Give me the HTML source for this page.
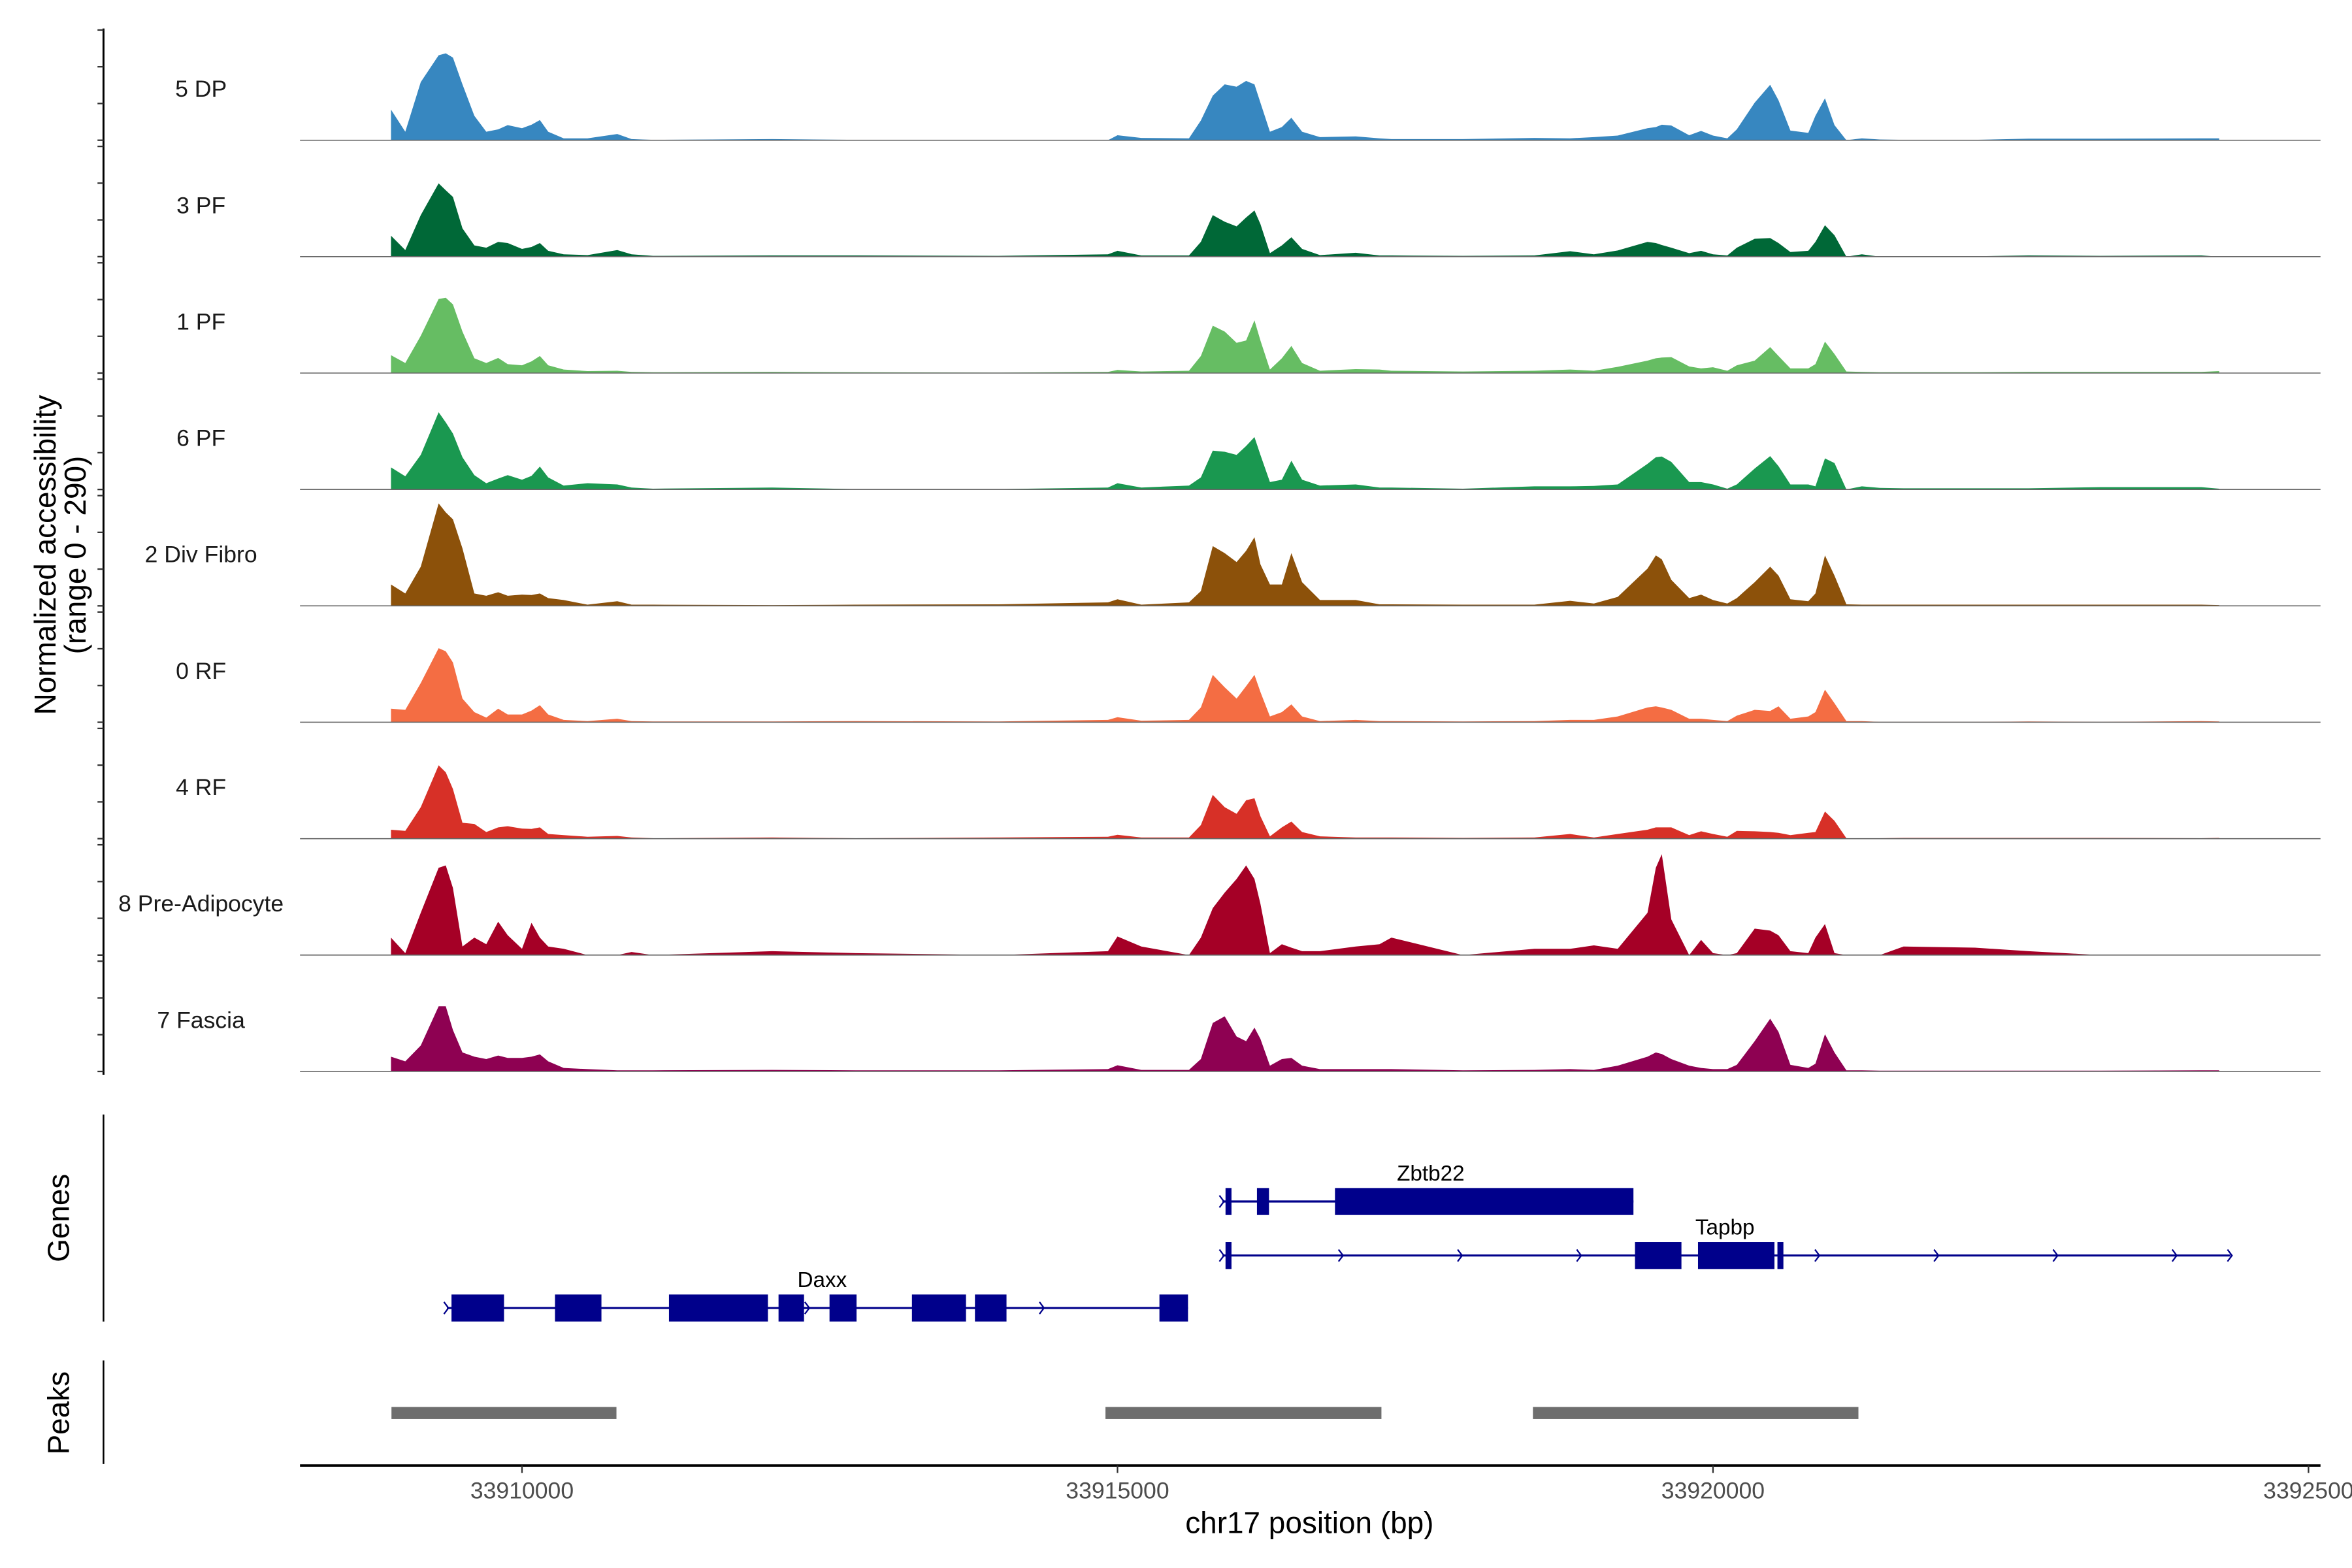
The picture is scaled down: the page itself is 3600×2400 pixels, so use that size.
<!DOCTYPE html>
<html><head><meta charset="utf-8"><style>
html,body{margin:0;padding:0;background:#fff;}
svg{display:block;font-family:"Liberation Sans",Arial,sans-serif;}
</style></head><body>
<svg id="chart" width="3600" height="2400" viewBox="0 0 1568 1045.33" preserveAspectRatio="none" xmlns="http://www.w3.org/2000/svg">
<g id="tracks"></g>
<g id="genes"></g>
<g id="peaks"></g>
<g id="axes"></g>
</svg>
<script>
// ---- data ----
const gridOx = [10,22,35,50,56,62,70,80,90,100,
108,120,128,135,142,155,175,200,212,230,
330,400,520,612,620,640,680,690,700,710,
720,728,735,740,748,758,766,775,790,820,
840,850,910,970,1000,1020,1040,1065,1072,1077,
1085,1100,1110,1120,1132,1140,1155,1168,1175,1185,
1200,1206,1214,1222,1232,1245,1260,1280,1340,1385,
1445,1530,1545];
const positions = gridOx.map(o => 33908800 + 10*o);
const trackNames = ["5 DP","3 PF","1 PF","6 PF","2 Div Fibro","0 RF","4 RF","8 Pre-Adipocyte","7 Fascia"];
const trackColors = ["#3787c0","#006837","#66bd63","#1a9850","#8c510a","#f46d43","#d73027","#a50026","#8e0152"];
const dp5 = [79,22,150,219,224,213,144,63,22,28, 39,31,40,52,22,5,5,16,3,1, 3,1,0,0,13,6,5,51,115,144, 138,153,144,97,22,34,58,22,8,10, 5,3,3,6,5,8,12,31,34,40, 38,13,24,12,5,28,97,143,103,25, 19,63,108,39,0,5,2,1,1,4, 4,5,5];
const pf3 = [54,17,107,189,171,154,73,29,23,38, 35,20,25,35,15,6,4,17,6,2, 3,3,2,6,15,3,3,38,107,90, 78,101,119,84,9,29,50,20,4,10, 3,3,2,3,14,6,16,38,35,30, 23,9,15,6,3,23,46,48,35,12, 15,38,81,55,0,6,0,1,1,3, 2,3,0];
const pf1 = [46,26,96,191,194,177,107,38,26,39, 23,20,30,44,20,9,5,6,3,2, 3,2,1,3,8,4,6,44,122,107, 78,84,136,84,9,38,70,26,6,10, 9,6,4,6,9,6,16,32,38,40, 41,17,12,15,6,20,32,67,44,12, 12,23,81,49,4,3,2,2,2,3, 3,3,5];
const pf6 = [57,34,89,199,173,144,83,37,16,28, 37,25,35,59,31,10,16,13,5,2, 5,1,1,5,16,5,10,31,100,97, 89,112,135,89,19,25,74,25,10,13, 5,5,2,8,8,9,13,66,83,85, 71,19,19,13,2,13,54,86,60,13, 13,8,80,68,0,8,4,3,3,3, 6,6,2];
const divFibro2 = [55,32,101,264,241,223,148,32,26,35, 26,29,28,32,20,15,3,12,3,3, 2,3,4,9,17,3,9,38,154,136, 113,142,177,107,55,55,136,61,15,15, 4,4,3,3,13,6,23,96,130,120, 67,20,29,15,6,20,61,101,78,17, 12,32,130,78,4,3,3,3,3,3, 3,3,2];
const rf0 = [35,32,101,191,183,154,61,26,12,35, 20,20,30,44,20,6,3,9,3,2, 2,3,2,6,13,4,6,38,122,90, 61,93,122,78,15,26,46,15,3,6, 3,3,2,3,6,6,15,38,41,38, 32,9,9,6,3,17,32,29,41,9, 15,26,84,49,3,3,1,1,1,2, 1,3,2];
const rf4 = [23,20,81,189,171,128,41,38,17,29, 32,26,25,29,12,9,5,7,3,1, 3,1,3,5,10,3,3,35,113,81, 64,99,104,58,6,29,44,17,6,3, 3,3,2,3,12,3,12,23,29,29, 29,9,19,12,5,20,19,17,15,9, 15,17,70,46,1,1,1,2,2,2, 2,1,2];
const preAdipo8 = [45,5,109,225,231,173,22,45,28,86, 51,16,83,45,22,16,0,0,8,0, 10,5,0,10,48,22,0,45,121,161, 196,231,196,132,5,28,19,10,10,22, 28,45,0,16,16,25,16,109,225,260, 92,0,39,5,0,5,68,63,51,10, 5,45,80,5,0,0,0,22,19,10, 0,0,0];
const fascia7 = [38,26,67,168,168,107,49,38,32,41, 35,35,38,44,26,9,6,3,3,3, 4,3,3,6,16,4,4,32,125,142, 90,78,113,84,15,32,35,15,6,6, 6,6,3,4,6,4,15,38,49,45, 32,15,9,6,6,17,78,136,102,17, 9,20,96,49,3,3,2,2,2,2, 2,3,3];
const seriesValues = [dp5,pf3,pf1,pf6,divFibro2,rf0,rf4,preAdipo8,fascia7];
const xTicks = [33910000,33915000,33920000,33925000];
const xTickLabels = ["33910000","33915000","33920000","3392500"];
const genes = ["Zbtb22","Tapbp","Daxx"];
const geneStarts = [33915881,33915881,33909370];
const geneEnds = [33919332,33924345,33915592];
const geneExons = [
  [[33915907,33915957],[33916171,33916272],[33916826,33919332]],
  [[33915907,33915957],[33919345,33919735],[33919874,33920516],[33920541,33920591]],
  [[33909408,33909849],[33910277,33910667],[33911234,33912065],[33912154,33912368],[33912582,33912809],[33913274,33913728],[33913803,33914068],[33915352,33915592]]
];
const geneLabelPos = [33917630,33920100,33912520];
const peakStarts = [33908904,33914899,33918488];
const peakEnds = [33910793,33917216,33921221];
const yMax = 290;

// ---- scales ----
const NS = "http://www.w3.org/2000/svg";
const X0 = 200, X1 = 1547;
function xScale(bp){ return 348 + (bp - 33910000) * 397 / 5000; }
const trackH = 75, firstBase = 93.5, trackStep = 77.6;
function baseY(i){ return firstBase + i*trackStep; }
function yScale(i, v){ return baseY(i) - v / yMax * trackH; }
function mk(tag, attrs, parent){ const e = document.createElementNS(NS, tag); for (const k in attrs) e.setAttribute(k, attrs[k]); parent.appendChild(e); return e; }

const gT = document.getElementById('tracks');
seriesValues.forEach((vals, i) => {
  const g = mk('g', {}, gT);
  
  
  let d = 'M' + xScale(positions[0]).toFixed(2) + ',' + baseY(i).toFixed(2);
  vals.forEach((v, j) => { d += 'L' + xScale(positions[j]).toFixed(2) + ',' + yScale(i, v).toFixed(2); });
  d += 'L' + xScale(positions[positions.length-1]).toFixed(2) + ',' + baseY(i).toFixed(2) + 'Z';
  const p = mk('path', {d: d, fill: trackColors[i], stroke: 'none'}, g);
  
  
  const bl = mk('line', {x1: X0, x2: X1, y1: baseY(i), y2: baseY(i), stroke: '#666', 'stroke-width': 0.7}, g);
  
  
  const t = mk('text', {x: 134, y: baseY(i) - 29, 'text-anchor': 'middle', 'font-size': 15.5, fill: '#1a1a1a'}, g);
  t.textContent = trackNames[i];
  
  
});

// ---- genes ----
const gG = document.getElementById('genes');
const geneRowY = [801, 837, 872];
const geneColor = '#00008b';
function chevron(x, y, g){
  const a = mk('path', {d: `M${x-2},${y-4}L${x+1},${y}L${x-2},${y+4}`, fill: 'none', stroke: geneColor, 'stroke-width': 1}, g);
  
  
}
genes.forEach((name, i) => {
  const g = mk('g', {}, gG);
  
  
  const y = geneRowY[i];
  const ln = mk('line', {x1: xScale(geneStarts[i]), x2: xScale(geneEnds[i]), y1: y, y2: y, stroke: geneColor, 'stroke-width': 1.4}, g);
  
  
  for (let bp = geneStarts[i]; bp <= geneEnds[i]; bp += 1000) {
    const inEx = geneExons[i].some(e => bp >= e[0]-60 && bp <= e[1]+60);
    if (inEx && bp !== geneStarts[i]) continue;
    chevron(xScale(bp), y, g);
  }
  if (i === 1) chevron(xScale(geneEnds[i]), y, g);
  if (i === 2) chevron(xScale(33912400), y, g);
  geneExons[i].forEach(e => {
    const r = mk('rect', {x: xScale(e[0]), y: y - 9, width: Math.max(2, xScale(e[1]) - xScale(e[0])), height: 18, fill: geneColor}, g);
    
    
  });
  const t = mk('text', {x: xScale(geneLabelPos[i]), y: y - 14, 'text-anchor': 'middle', 'font-size': 14.5, fill: '#000'}, g);
  t.textContent = name;
  
  
});

// ---- peaks ----
const gP = document.getElementById('peaks');
peakStarts.forEach((s, i) => {
  const r = mk('rect', {x: xScale(s), y: 938, width: xScale(peakEnds[i]) - xScale(s), height: 8, fill: '#6e6e6e'}, gP);
  
  
});

// ---- axes ----
const gA = document.getElementById('axes');
const yl = mk('line', {x1: 69, x2: 69, y1: 19, y2: 716.5, stroke: '#000', 'stroke-width': 1.3}, gA);


for (let i = 0; i < trackNames.length; i++) {
  for (let k = 0; k < 4; k++) {
    const y = baseY(i) - 73.5 + k*24.5;
    const tk = mk('line', {x1: 65, x2: 69, y1: y, y2: y, stroke: '#333', 'stroke-width': 1}, gA);
    
    
  }
}
const yt = mk('text', {x: 0, y: 0, transform: 'translate(37,370) rotate(-90)', 'text-anchor': 'middle', 'font-size': 20, fill: '#000'}, gA);
yt.textContent = 'Normalized accessibility';


const yt2 = mk('text', {x: 0, y: 0, transform: 'translate(57,370) rotate(-90)', 'text-anchor': 'middle', 'font-size': 20, fill: '#000'}, gA);
yt2.textContent = '(range 0 - 290)';



const gl = mk('line', {x1: 69, x2: 69, y1: 743, y2: 881, stroke: '#000', 'stroke-width': 1.1}, gA);


const gtt = mk('text', {x: 0, y: 0, transform: 'translate(46,812) rotate(-90)', 'text-anchor': 'middle', 'font-size': 20, fill: '#000'}, gA);
gtt.textContent = 'Genes';


const pl = mk('line', {x1: 69, x2: 69, y1: 907, y2: 976, stroke: '#000', 'stroke-width': 1.1}, gA);


const ptt = mk('text', {x: 0, y: 0, transform: 'translate(46,942) rotate(-90)', 'text-anchor': 'middle', 'font-size': 20, fill: '#000'}, gA);
ptt.textContent = 'Peaks';



const xl = mk('line', {x1: X0, x2: X1, y1: 977, y2: 977, stroke: '#000', 'stroke-width': 1.6}, gA);


xTicks.forEach((bp, i) => {
  const x = xScale(bp);
  const tk = mk('line', {x1: x, x2: x, y1: 977, y2: 982, stroke: '#333', 'stroke-width': 1}, gA);
  
  
  const t = mk('text', {x: x, y: 999, 'text-anchor': 'middle', 'font-size': 15.5, fill: '#4d4d4d'}, gA);
  t.textContent = xTickLabels[i];
  
  
});
const xt = mk('text', {x: 873, y: 1022, 'text-anchor': 'middle', 'font-size': 20, fill: '#000'}, gA);
xt.textContent = 'chr17 position (bp)';


</script>
</body></html>
